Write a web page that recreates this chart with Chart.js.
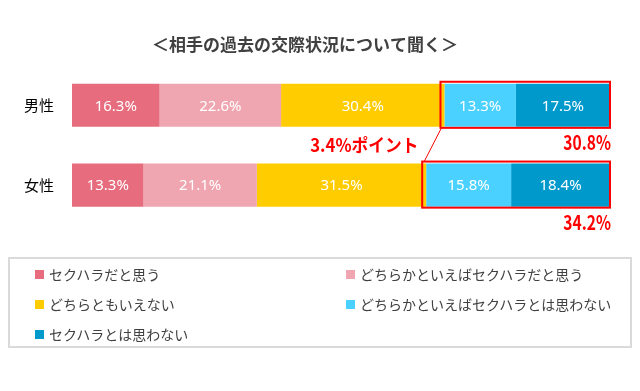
<!DOCTYPE html>
<html lang="ja">
<head>
<meta charset="utf-8">
<script src="https://cdn.jsdelivr.net/npm/chart.js@4.4.1/dist/chart.umd.min.js"></script>
<style>
  body { margin: 0; background: #fff; }
  #wrap { position: relative; width: 640px; height: 391px; }
  #legend {
    position: absolute; left: 8px; top: 257px; width: 624px; height: 91px;
    box-sizing: border-box; border: 2px solid #dadada;
    display: grid; grid-template-columns: 311px auto; grid-auto-rows: 30px;
    padding-left: 25px; align-content: start;
    font-family: "Noto Sans CJK JP", sans-serif; font-size: 14px; color: #404040;
  }
  #legend .item { display: flex; align-items: center; }
  #legend .sw { width: 9px; height: 9px; margin-right: 5px; }
</style>
</head>
<body>
<div id="wrap">
  <canvas id="chart"></canvas>
  <div id="legend"></div>
</div>
<script>
// categories and series
var categories = ['男性', '女性'];
var seriesNames = [
    'セクハラだと思う',
    'どちらかといえばセクハラだと思う',
    'どちらともいえない',
    'どちらかといえばセクハラとは思わない',
    'セクハラとは思わない'
];
var seriesColors = ['#e66c7e', '#f0a6b0', '#ffcc00', '#4bd1ff', '#0099cc'];

var omou = [16.3, 13.3];
var dochirakaOmou = [22.6, 21.1];
var dochiramo = [30.4, 31.5];
var dochirakaOmowanai = [13.3, 15.8];
var omowanai = [17.5, 18.4];

var seriesValues = [omou, dochirakaOmou, dochiramo, dochirakaOmowanai, omowanai];

var RED = '#ff0000';

// draw text squeezed horizontally (the red notes use a narrow bold face)
function narrowText(ctx, text, x, y, sx) {
    ctx.save();
    ctx.translate(x, y);
    ctx.scale(sx, 1);
    ctx.fillText(text, 0, 0);
    ctx.restore();
}

// labels in bars, red boxes and notes
var barNotes = {
    id: 'barNotes',
    afterDatasetsDraw: function(chart) {
        var ctx = chart.ctx;
        ctx.save();
        ctx.fillStyle = '#fff';
        ctx.font = '15px "Noto Sans", sans-serif';
        ctx.textAlign = 'center';
        ctx.textBaseline = 'middle';
        seriesValues.forEach(function(vals, i) {
            chart.getDatasetMeta(i).data.forEach(function(bar, j) {
                ctx.fillText(vals[j].toFixed(1) + '%', (bar.x + bar.base) / 2, bar.y + 1);
            });
        });

        var boxes = categories.map(function(c, j) {
            var a = chart.getDatasetMeta(3).data[j];
            var b = chart.getDatasetMeta(4).data[j];
            return {
                left: a.base - 4,
                right: b.x,
                top: a.y - a.height / 2 - 2,
                bottom: a.y + a.height / 2 + 1,
                sum: dochirakaOmowanai[j] + omowanai[j]
            };
        });

        ctx.strokeStyle = RED;
        ctx.lineWidth = 2;
        boxes.forEach(function(bx) {
            ctx.strokeRect(bx.left, bx.top, bx.right - bx.left, bx.bottom - bx.top);
        });

        ctx.lineWidth = 1;
        ctx.beginPath();
        ctx.moveTo(boxes[0].left + 1, boxes[0].bottom);
        ctx.lineTo(boxes[1].left + 2, boxes[1].top);
        ctx.stroke();

        ctx.fillStyle = RED;
        ctx.textAlign = 'right';
        ctx.font = 'bold 20px "Noto Sans CJK JP", sans-serif';
        boxes.forEach(function(bx) {
            narrowText(ctx, bx.sum.toFixed(1) + '%', bx.right + 1, bx.bottom + 15, 0.78);
        });

        var diff = boxes[1].sum - boxes[0].sum;
        ctx.font = 'bold 18px "Noto Sans CJK JP", sans-serif';
        narrowText(ctx, diff.toFixed(1) + '%ポイント', boxes[0].left - 22, boxes[0].bottom + 17, 0.93);
        ctx.restore();
    }
};

var ctx = document.getElementById('chart').getContext('2d');
var chart = new Chart(ctx, {
    type: 'bar',
    data: {
        labels: categories,
        datasets: seriesValues.map(function(vals, i) {
            return {
                label: seriesNames[i],
                data: vals,
                backgroundColor: seriesColors[i],
                borderWidth: 0,
                barPercentage: 0.54,
                categoryPercentage: 1
            };
        })
    },
    options: {
        indexAxis: 'y',
        responsive: true,
        maintainAspectRatio: false,
        animation: false,
        layout: {
            padding: { left: 0, right: 30, top: 0, bottom: 166 }
        },
        scales: {
            x: {
                stacked: true,
                min: 0,
                max: 100.1,
                display: false
            },
            y: {
                stacked: true,
                grid: { display: false },
                border: { display: false },
                ticks: {
                    color: '#000',
                    padding: 10,
                    font: { size: 15, family: '"Noto Sans CJK JP", sans-serif' }
                },
                afterFit: function(scale) { scale.width = 72; }
            }
        },
        plugins: {
            legend: { display: false },
            tooltip: { enabled: false },
            title: {
                display: true,
                text: '＜相手の過去の交際状況について聞く＞',
                color: '#404040',
                font: { size: 17, weight: 'bold', family: '"Noto Sans CJK JP", sans-serif' },
                padding: { top: 34, bottom: 11 }
            }
        }
    },
    plugins: [barNotes]
});

// legend in two columns
var legend = document.getElementById('legend');
seriesNames.forEach(function(name, i) {
    var item = document.createElement('div');
    item.className = 'item';
    var sw = document.createElement('span');
    sw.className = 'sw';
    sw.style.background = seriesColors[i];
    var txt = document.createElement('span');
    txt.textContent = name;
    item.appendChild(sw);
    item.appendChild(txt);
    legend.appendChild(item);
});
</script>
</body>
</html>
